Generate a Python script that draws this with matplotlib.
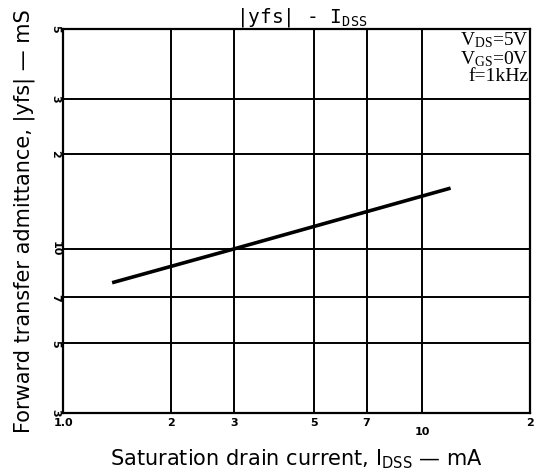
import matplotlib
matplotlib.use('Agg')
import matplotlib.pyplot as plt

idss = [1.37, 3.0, 12.0]
yfs = [7.8, 10.0, 15.6]

x_ticks = [1, 2, 3, 5, 7, 10, 20]
x_labels = ['1.0', '2', '3', '5', '7', '10', '2']
y_ticks = [3, 5, 7, 10, 20, 30, 50]
y_labels = ['3', '5', '7', '10', '2', '3', '5']

fig = plt.figure(figsize=(5.34, 4.70), dpi=100)
ax = fig.add_axes([0.118, 0.121, 0.875, 0.817])
ax.set_xscale('log')
ax.set_yscale('log')
ax.set_xlim(1, 20)
ax.set_ylim(3, 50)

# rejilla
for xv in x_ticks[1:-1]:
    ax.axvline(xv, color='black', lw=1.4)
for yv in y_ticks[1:-1]:
    ax.axhline(yv, color='black', lw=1.4)
for s in ax.spines.values():
    s.set_linewidth(1.6)

ax.plot(idss, yfs, color='black', lw=2.6, solid_capstyle='butt')

ax.set_xticks(x_ticks)
ax.set_xticklabels([])
ax.set_yticks(y_ticks)
ax.set_yticklabels([])
ax.minorticks_off()
ax.tick_params(length=0)

for xv, lab in zip(x_ticks, x_labels):
    dy = -0.05 if lab == '10' else -0.025
    ax.text(xv, dy, lab, transform=ax.get_xaxis_transform(), ha='center',
            va='center', fontsize=8, fontweight='bold')
for yv, lab in zip(y_ticks, y_labels):
    ax.text(-0.006, yv, lab, transform=ax.get_yaxis_transform(), ha='right',
            va='center', fontsize=8, fontweight='bold', rotation=-90)

ax.set_xlabel('Saturation drain current, $\\mathregular{I_{DSS}}$ — mA',
              fontsize=15, labelpad=21)
ax.set_ylabel('Forward transfer admittance, |yfs| — mS', fontsize=15,
              labelpad=17)

ax.text(0.51, 1.0, '|yfs| - I$\\mathregular{_{DSS}}$', transform=ax.transAxes,
        ha='center', va='bottom', fontsize=14, family='DejaVu Sans Mono')

cond = 'V$\\mathregular{_{DS}}$=5V\nV$\\mathregular{_{GS}}$=0V\nf=1kHz'
ax.text(0.997, 0.997, cond, transform=ax.transAxes, ha='right', va='top',
        fontsize=14, family='Liberation Serif', linespacing=0.95)

fig.savefig('out.png', dpi=100)
